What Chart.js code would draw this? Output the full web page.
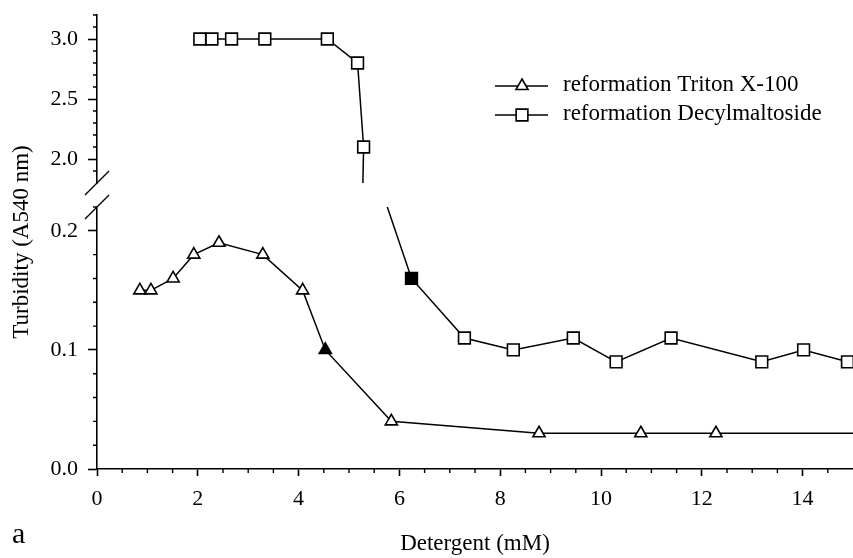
<!DOCTYPE html>
<html><head><meta charset="utf-8">
<script src="https://cdn.jsdelivr.net/npm/chart.js@4.4.1/dist/chart.umd.min.js"></script>
<style>html,body{margin:0;padding:0;background:#fff}canvas{display:block}</style>
</head><body>
<canvas id="c" width="853" height="558"></canvas>
<script>
// ---- data ----
const tritonX = [0.85, 1.07, 1.51, 1.92, 2.42, 3.29, 4.08, 4.53, 5.84, 8.77, 10.79, 12.28, 15.3];
const tritonY = [0.15, 0.15, 0.16, 0.18, 0.19, 0.18, 0.15, 0.10, 0.04, 0.03, 0.03, 0.03, 0.03];
const tritonFilled = [false, false, false, false, false, false, false, true, false, false, false, false, false];
const decylX = [2.04, 2.28, 2.67, 3.33, 4.57, 5.17, 5.29, 5.2, 6.24, 7.29, 8.26, 9.45, 10.30, 11.39, 13.19, 14.02, 14.89];
const decylY = [3.0, 3.0, 3.0, 3.0, 3.0, 2.8, 2.1, 0.29, 0.16, 0.11, 0.10, 0.11, 0.09, 0.11, 0.09, 0.10, 0.09];
const decylFilled = [false, false, false, false, false, false, false, false, true, false, false, false, false, false, false, false, false];
const seriesLabels = ['reformation Triton X-100', 'reformation Decylmaltoside'];
const xTicks = [0, 2, 4, 6, 8, 10, 12, 14];
const upperTicks = [2.0, 2.5, 3.0];
const lowerTicks = [0.0, 0.1, 0.2];
const xTitle = 'Detergent (mM)';
const yTitle = 'Turbidity (A540 nm)';
const panelLabel = 'a';

const FONT = "'Liberation Serif', 'Times New Roman', serif";
const pts = (xs, ys) => xs.map((x, i) => ({x, y: ys[i]}));

const common = {
  showLine: true, borderColor: '#000', borderWidth: 1.5, tension: 0,
  pointBorderColor: '#000', pointBorderWidth: 1.6, pointHoverRadius: 0
};

function ticksFrom(arr) { return s => { s.ticks = arr.map(v => ({value: v})); }; }
function zeroPad(s) { s.paddingTop = 0; s.paddingBottom = 0; s.paddingLeft = 0; s.paddingRight = 0; }

const yCommon = {
  type: 'linear', position: 'left', stack: 'y',
  border: {display: true, color: '#000', width: 1.6},
  grid: {display: true, drawOnChartArea: false, drawTicks: true, tickLength: 9, tickWidth: 1.6, tickColor: '#000'},
  ticks: {color: '#000', font: {family: FONT, size: 22}, padding: 10,
          callback: v => Number(v).toFixed(1)},
  afterFit: s => { s.width = 97; zeroPad(s); }
};

const breakPlugin = {
  id: 'broken',
  beforeDatasetDraw(chart, args) {
    const ys = args.meta.yScale, ca = chart.chartArea, ctx = chart.ctx;
    ctx.save();
    ctx.beginPath();
    ctx.rect(ca.left - 20, ys.top, ca.right - ca.left + 40, ys.bottom - ys.top);
    ctx.clip();
  },
  afterDatasetDraw(chart) { chart.ctx.restore(); },
  afterDraw(chart) {
    const ctx = chart.ctx, xs = chart.scales.x, up = chart.scales.yUp, lo = chart.scales.yLow;
    const ax = xs.left;
    ctx.save();
    ctx.strokeStyle = '#000';
    ctx.lineWidth = 1.4;
    // minor ticks
    ctx.beginPath();
    for (let v = 0.5; v < xs.max; v += 0.5) {
      if (xTicks.some(t => Math.abs(t - v) < 1e-6)) continue;
      const px = xs.getPixelForValue(v);
      ctx.moveTo(px, xs.top); ctx.lineTo(px, xs.top + 4);
    }
    for (let v = 1.9; v <= up.max + 1e-6; v += 0.1) {
      if (upperTicks.some(t => Math.abs(t - v) < 1e-6)) continue;
      const py = up.getPixelForValue(v);
      ctx.moveTo(ax, py); ctx.lineTo(ax - 4, py);
    }
    for (let v = 0.02; v <= lo.max + 1e-6; v += 0.02) {
      if (lowerTicks.some(t => Math.abs(t - v) < 1e-6)) continue;
      const py = lo.getPixelForValue(v);
      ctx.moveTo(ax, py); ctx.lineTo(ax - 4, py);
    }
    ctx.stroke();
    // break marks
    ctx.beginPath();
    ctx.moveTo(ax - 12, up.bottom + 12); ctx.lineTo(ax + 12, up.bottom - 12);
    ctx.moveTo(ax - 12, lo.top + 12); ctx.lineTo(ax + 12, lo.top - 12);
    ctx.stroke();
    // y title
    ctx.fillStyle = '#000';
    ctx.font = '23px ' + FONT;
    ctx.textAlign = 'center'; ctx.textBaseline = 'middle';
    ctx.save();
    ctx.translate(22, (up.top + lo.bottom) / 2);
    ctx.rotate(-Math.PI / 2);
    ctx.fillText(yTitle, 0, 0);
    ctx.restore();
    // panel label
    ctx.font = '30px ' + FONT;
    ctx.textAlign = 'left'; ctx.textBaseline = 'alphabetic';
    ctx.fillText(panelLabel, 12, 543);
    // legend
    const styles = [{ps: 'triangle', r: 7}, {ps: 'rect', r: 8.3}];
    const rows = [86, 115];
    ctx.font = '23px ' + FONT;
    ctx.textBaseline = 'middle';
    seriesLabels.forEach((lab, i) => {
      const y = rows[i];
      ctx.lineWidth = 1.5;
      ctx.beginPath(); ctx.moveTo(495, y); ctx.lineTo(548, y); ctx.stroke();
      ctx.fillStyle = '#fff'; ctx.lineWidth = 1.6;
      Chart.helpers.drawPoint(ctx, {pointStyle: styles[i].ps, radius: styles[i].r, borderWidth: 1.6}, 522, y);
      ctx.fillStyle = '#000';
      ctx.fillText(lab, 563, y - 1);
    });
    ctx.restore();
  }
};

new Chart(document.getElementById('c'), {
  type: 'scatter',
  data: {
    datasets: [
      Object.assign({}, common, {
        label: seriesLabels[0], data: pts(tritonX, tritonY), yAxisID: 'yLow',
        pointStyle: 'triangle', pointRadius: 7,
        pointBackgroundColor: c => tritonFilled[c.dataIndex] ? '#000' : '#fff'
      }),
      Object.assign({}, common, {
        label: seriesLabels[1], data: pts(decylX, decylY), yAxisID: 'yLow',
        pointStyle: 'rect', pointRadius: 8.3,
        pointBackgroundColor: c => decylFilled[c.dataIndex] ? '#000' : '#fff'
      }),
      Object.assign({}, common, {
        label: seriesLabels[1], data: pts(decylX, decylY), yAxisID: 'yUp',
        pointStyle: 'rect', pointRadius: 8.3,
        pointBackgroundColor: c => decylFilled[c.dataIndex] ? '#000' : '#fff'
      })
    ]
  },
  options: {
    responsive: false, animation: false, devicePixelRatio: 1,
    layout: {autoPadding: false, padding: {left: 0, right: 0, top: 15, bottom: 0}},
    plugins: {legend: {display: false}, tooltip: {enabled: false}},
    events: [],
    scales: {
      x: {
        type: 'linear', position: 'bottom', min: 0, max: 15,
        border: {display: true, color: '#000', width: 1.6},
        grid: {display: true, drawOnChartArea: false, drawTicks: true, tickLength: 7, tickWidth: 1.6, tickColor: '#000'},
        ticks: {color: '#000', font: {family: FONT, size: 22}, padding: 10, maxRotation: 0},
        afterBuildTicks: ticksFrom(xTicks),
        title: {display: true, text: xTitle, color: '#000', font: {family: FONT, size: 23}, padding: 0},
        afterFit: s => { s.height = 89; zeroPad(s); }
      },
      yLow: Object.assign({}, yCommon, {min: 0, max: 0.22, stackWeight: 262, afterBuildTicks: ticksFrom(lowerTicks)}),
      yGap: {type: 'linear', position: 'left', stack: 'y', stackWeight: 24, display: false, min: 0, max: 1,
             afterFit: zeroPad},
      yUp: Object.assign({}, yCommon, {min: 1.8, max: 3.2, stackWeight: 168, afterBuildTicks: ticksFrom(upperTicks)})
    }
  },
  plugins: [breakPlugin]
});
</script>
</body></html>
